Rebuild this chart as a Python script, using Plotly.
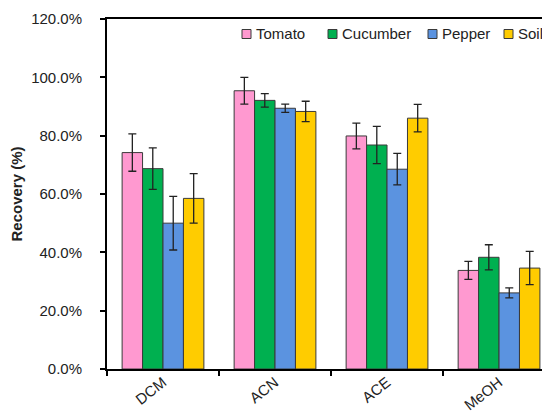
import plotly.graph_objects as go

categories = ["DCM", "ACN", "ACE", "MeOH"]
series_names = ["Tomato", "Cucumber", "Pepper", "Soil"]
tomato = [74.2, 95.4, 79.9, 33.8]
tomato_err = [6.4, 4.6, 4.4, 3.1]
cucumber = [68.7, 92.1, 76.8, 38.3]
cucumber_err = [7.1, 2.3, 6.4, 4.3]
pepper = [50.0, 89.4, 68.5, 26.1]
pepper_err = [9.2, 1.4, 5.4, 1.7]
soil = [58.5, 88.3, 86.0, 34.6]
soil_err = [8.5, 3.5, 4.7, 5.7]
colors = ["#FF99D0", "#00B050", "#5B93E0", "#FFCC00"]
y_ticks = [0, 20, 40, 60, 80, 100, 120]
y_tick_labels = ["0.0%", "20.0%", "40.0%", "60.0%", "80.0%", "100.0%", "120.0%"]

# the page body has an 8px margin, so the figure is sized to fill the rest of the window
OFF = 8
W, H = 550 - OFF, 412 - OFF
ML, MR, MT, MB = 107 - OFF, 0, 19 - OFF, 43
FONT = "Liberation Sans, Arial, sans-serif"

fig = go.Figure()
for name, vals, errs, col in zip(series_names, [tomato, cucumber, pepper, soil],
                                 [tomato_err, cucumber_err, pepper_err, soil_err], colors):
    fig.add_trace(go.Bar(
        x=categories, y=vals, name=name, showlegend=False,
        marker=dict(color=col, line=dict(color="#3a3a3a", width=1)),
        error_y=dict(type="data", array=errs, visible=True, color="#222222", thickness=1.3, width=4),
    ))

# legend drawn as swatches + labels along the top of the plot (page pixel positions)
legend_px = [242, 328, 428, 504]
legend_y_px = 34
pw = W - ML - MR
ph = H - MT - MB
def px_to_paper_x(px):
    return (px - OFF - ML) / pw
def py_to_paper_y(py):
    return (H - MB - (py - OFF)) / ph
shapes = []
annotations = []
for name, col, lx in zip(series_names, colors, legend_px):
    shapes.append(dict(type="rect", xref="paper", yref="paper",
                       x0=px_to_paper_x(lx), x1=px_to_paper_x(lx + 9),
                       y0=py_to_paper_y(legend_y_px + 4.5), y1=py_to_paper_y(legend_y_px - 4.5),
                       fillcolor=col, line=dict(color="#3a3a3a", width=1)))
    annotations.append(dict(text=name, xref="paper", yref="paper",
                            x=px_to_paper_x(lx + 12), y=py_to_paper_y(legend_y_px),
                            xanchor="left", yanchor="middle", showarrow=False,
                            font=dict(size=15, family=FONT, color="#222222")))

fig.update_layout(
    width=W, height=H,
    margin=dict(l=ML, r=MR, t=MT, b=MB, autoexpand=False),
    paper_bgcolor="white", plot_bgcolor="white",
    barmode="group", bargap=0.27, bargroupgap=0,
    showlegend=False,
    font=dict(family=FONT, color="#222222", size=15),
    shapes=shapes, annotations=annotations,
    xaxis=dict(range=[-0.5, 3.455], showline=True, linecolor="black", linewidth=2,
               mirror=True, ticks="outside", tickson="boundaries", ticklen=5,
               tickcolor="black", tickwidth=2, tickangle=-38, automargin=False,
               ticklabelstandoff=-3,
               tickfont=dict(size=15, family=FONT)),
    yaxis=dict(range=[0, 120], tickvals=y_ticks, ticktext=y_tick_labels,
               showline=True, linecolor="black", linewidth=2, showgrid=False,
               ticks="outside", ticklen=5, tickcolor="black", tickwidth=2,
               zeroline=False, automargin=False, ticklabelstandoff=15,
               title=dict(text="<b>Recovery (%)</b>", font=dict(size=15), standoff=7),
               tickfont=dict(size=15)),
)

fig.write_html("out.html")
